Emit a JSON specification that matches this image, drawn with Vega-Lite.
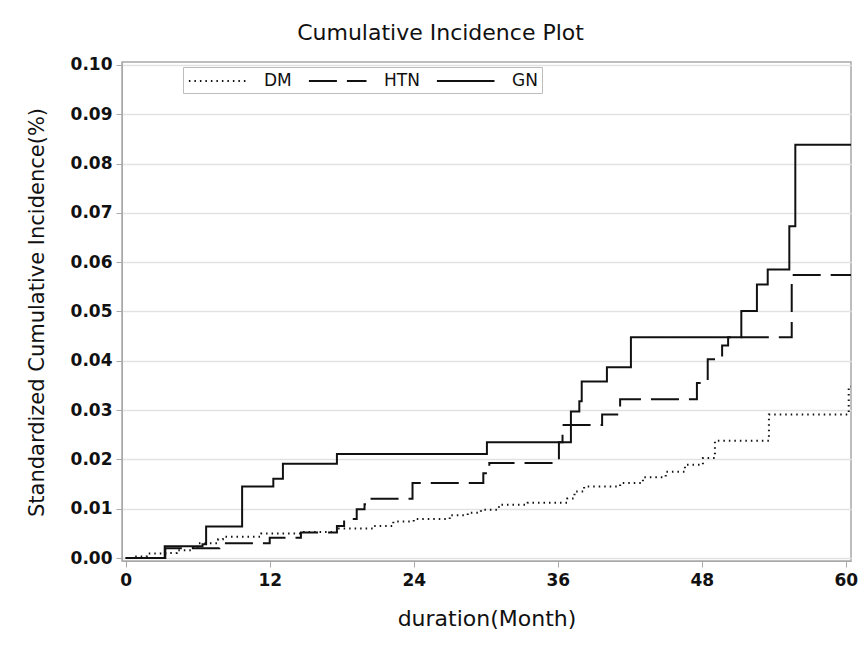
{
  "$schema": "https://vega.github.io/schema/vega-lite/v6.json",
  "autosize": "none",
  "width": 729,
  "height": 499,
  "padding": {"left": 122, "top": 62, "right": 12, "bottom": 84},
  "background": "white",
  "title": {
    "text": "Cumulative Incidence Plot",
    "font": "DejaVu Sans",
    "fontSize": 22,
    "fontWeight": "normal",
    "color": "#111",
    "anchor": "middle",
    "dx": -46,
    "offset": 11
  },
  "config": {
    "view": {"stroke": "#a8a8a8", "strokeWidth": 1.5},
    "axis": {
      "labelFont": "DejaVu Sans",
      "titleFont": "DejaVu Sans",
      "labelFontWeight": "bold",
      "labelFontSize": 17,
      "labelColor": "#111",
      "titleFontWeight": "normal",
      "titleFontSize": 20,
      "titleColor": "#111",
      "domainColor": "#a8a8a8",
      "tickColor": "#a8a8a8",
      "tickSize": 6
    }
  },
  "data": {
    "values": [
      {"s": "GN", "t": 0, "v": 0},
      {"s": "GN", "t": 3.25, "v": 0.0024},
      {"s": "GN", "t": 6.4, "v": 0.0028},
      {"s": "GN", "t": 6.7, "v": 0.0064},
      {"s": "GN", "t": 9.7, "v": 0.0145},
      {"s": "GN", "t": 12.3, "v": 0.0161},
      {"s": "GN", "t": 13.1, "v": 0.0191},
      {"s": "GN", "t": 17.6, "v": 0.0211},
      {"s": "GN", "t": 30.1, "v": 0.0235},
      {"s": "GN", "t": 37.1, "v": 0.0297},
      {"s": "GN", "t": 37.8, "v": 0.0318},
      {"s": "GN", "t": 38.0, "v": 0.0358},
      {"s": "GN", "t": 40.1, "v": 0.0387},
      {"s": "GN", "t": 42.1, "v": 0.0448},
      {"s": "GN", "t": 51.3, "v": 0.0501},
      {"s": "GN", "t": 52.6, "v": 0.0555},
      {"s": "GN", "t": 53.5, "v": 0.0585},
      {"s": "GN", "t": 55.3, "v": 0.0673},
      {"s": "GN", "t": 55.8, "v": 0.0838},
      {"s": "GN", "t": 60.5, "v": 0.0838},

      {"s": "HTN", "t": 0, "v": 0},
      {"s": "HTN", "t": 3.3, "v": 0.002},
      {"s": "HTN", "t": 7.8, "v": 0.003},
      {"s": "HTN", "t": 12.0, "v": 0.0041},
      {"s": "HTN", "t": 14.6, "v": 0.0052},
      {"s": "HTN", "t": 17.6, "v": 0.0065},
      {"s": "HTN", "t": 18.2, "v": 0.0079},
      {"s": "HTN", "t": 19.25, "v": 0.0099},
      {"s": "HTN", "t": 19.9, "v": 0.0109},
      {"s": "HTN", "t": 20.2, "v": 0.012},
      {"s": "HTN", "t": 23.9, "v": 0.0152},
      {"s": "HTN", "t": 29.8, "v": 0.0172},
      {"s": "HTN", "t": 30.3, "v": 0.0193},
      {"s": "HTN", "t": 36.1, "v": 0.0235},
      {"s": "HTN", "t": 36.4, "v": 0.027},
      {"s": "HTN", "t": 39.7, "v": 0.0291},
      {"s": "HTN", "t": 41.2, "v": 0.0322},
      {"s": "HTN", "t": 47.6, "v": 0.0355},
      {"s": "HTN", "t": 48.5, "v": 0.0403},
      {"s": "HTN", "t": 49.7, "v": 0.0431},
      {"s": "HTN", "t": 50.2, "v": 0.0448},
      {"s": "HTN", "t": 55.5, "v": 0.0574},
      {"s": "HTN", "t": 60.5, "v": 0.0574},

      {"s": "DM", "t": 0, "v": 0},
      {"s": "DM", "t": 0.6, "v": 0.0003},
      {"s": "DM", "t": 1.75, "v": 0.0009},
      {"s": "DM", "t": 3.3, "v": 0.001},
      {"s": "DM", "t": 4.25, "v": 0.0016},
      {"s": "DM", "t": 5.6, "v": 0.0023},
      {"s": "DM", "t": 6.0, "v": 0.003},
      {"s": "DM", "t": 7.7, "v": 0.0038},
      {"s": "DM", "t": 8.1, "v": 0.0043},
      {"s": "DM", "t": 11.3, "v": 0.005},
      {"s": "DM", "t": 14.7, "v": 0.0053},
      {"s": "DM", "t": 17.7, "v": 0.006},
      {"s": "DM", "t": 20.6, "v": 0.0065},
      {"s": "DM", "t": 22.3, "v": 0.0074},
      {"s": "DM", "t": 24.0, "v": 0.0079},
      {"s": "DM", "t": 27.0, "v": 0.0087},
      {"s": "DM", "t": 28.5, "v": 0.0092},
      {"s": "DM", "t": 29.6, "v": 0.0098},
      {"s": "DM", "t": 31.1, "v": 0.0108},
      {"s": "DM", "t": 33.5, "v": 0.0112},
      {"s": "DM", "t": 36.8, "v": 0.0121},
      {"s": "DM", "t": 37.4, "v": 0.0135},
      {"s": "DM", "t": 38.2, "v": 0.0145},
      {"s": "DM", "t": 41.2, "v": 0.0152},
      {"s": "DM", "t": 43.1, "v": 0.0164},
      {"s": "DM", "t": 45.0, "v": 0.0175},
      {"s": "DM", "t": 46.6, "v": 0.0189},
      {"s": "DM", "t": 48.1, "v": 0.0203},
      {"s": "DM", "t": 49.1, "v": 0.0238},
      {"s": "DM", "t": 53.6, "v": 0.0291},
      {"s": "DM", "t": 60.25, "v": 0.0348},
      {"s": "DM", "t": 60.5, "v": 0.0348}
    ]
  },
  "mark": {"type": "line", "interpolate": "step-after", "clip": true, "color": "#111", "strokeWidth": 2},
  "encoding": {
    "x": {
      "field": "t",
      "type": "quantitative",
      "scale": {"domain": [-0.31, 60.44], "nice": false, "zero": false},
      "axis": {"values": [0, 12, 24, 36, 48, 60], "grid": false, "title": "duration(Month)", "titleFontSize": 22, "labelPadding": 5, "titleY": 57, "titleBaseline": "middle"}
    },
    "y": {
      "field": "v",
      "type": "quantitative",
      "scale": {"domain": [-0.0006, 0.1006], "nice": false, "zero": false},
      "axis": {
        "values": [0, 0.01, 0.02, 0.03, 0.04, 0.05, 0.06, 0.07, 0.08, 0.09, 0.1],
        "format": ".2f",
        "grid": true,
        "gridColor": "#e2e2e2",
        "gridWidth": 1.5,
        "title": "Standardized Cumulative Incidence(%)",
        "titleFontSize": 21,
        "labelPadding": 4,
        "titleX": -85,
        "titleY": 250,
        "titleAngle": -90,
        "titleAlign": "center",
        "titleBaseline": "middle"
      }
    },
    "strokeDash": {
      "field": "s",
      "type": "nominal",
      "scale": {"domain": ["DM", "HTN", "GN"], "range": [[1.5, 4], [28, 10], [1, 0]]},
      "legend": {
        "title": null,
        "orient": "none",
        "legendX": 61,
        "legendY": 5,
        "direction": "horizontal",
        "strokeColor": "#bdbdbd",
        "fillColor": "white",
        "padding": 4,
        "symbolType": "M-0.9,0H5.5",
        "symbolSize": 324,
        "symbolStrokeWidth": 1.8,
        "symbolStrokeColor": "#111",
        "symbolFillColor": "transparent",
        "labelFont": "DejaVu Sans",
        "labelFontSize": 17,
        "labelColor": "#111",
        "labelOffset": 57,
        "columnPadding": 13
      }
    }
  }
}
